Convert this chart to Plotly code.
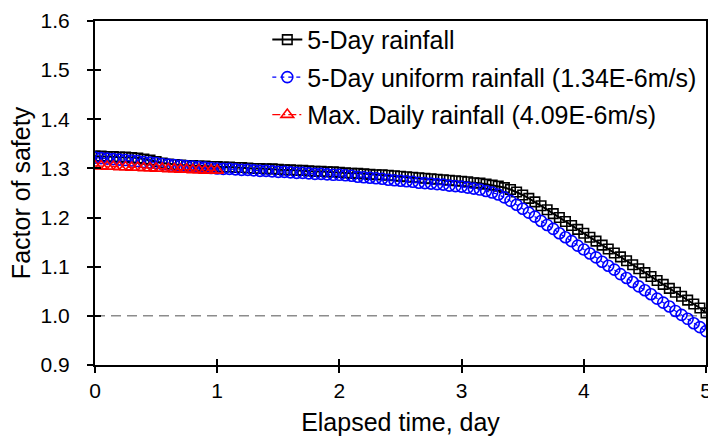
import plotly.graph_objects as go

# Elapsed time (days) at each computed step
time_day = [
    0.00, 0.05, 0.10, 0.15, 0.20, 0.25, 0.30, 0.35, 0.40, 0.45,
    0.50, 0.55, 0.60, 0.65, 0.70, 0.75, 0.80, 0.85, 0.90, 0.95,
    1.00, 1.05, 1.10, 1.15, 1.20, 1.25, 1.30, 1.35, 1.40, 1.45,
    1.50, 1.55, 1.60, 1.65, 1.70, 1.75, 1.80, 1.85, 1.90, 1.95,
    2.00, 2.05, 2.10, 2.15, 2.20, 2.25, 2.30, 2.35, 2.40, 2.45,
    2.50, 2.55, 2.60, 2.65, 2.70, 2.75, 2.80, 2.85, 2.90, 2.95,
    3.00, 3.05, 3.10, 3.15, 3.20, 3.25, 3.30, 3.35, 3.40, 3.45,
    3.50, 3.55, 3.60, 3.65, 3.70, 3.75, 3.80, 3.85, 3.90, 3.95,
    4.00, 4.05, 4.10, 4.15, 4.20, 4.25, 4.30, 4.35, 4.40, 4.45,
    4.50, 4.55, 4.60, 4.65, 4.70, 4.75, 4.80, 4.85, 4.90, 4.95,
    5.00,
]

# Factor of safety, 5-day recorded rainfall
fs_5day = [
    1.325, 1.325, 1.324, 1.324, 1.323, 1.323, 1.322, 1.321, 1.319, 1.317,
    1.314, 1.311, 1.309, 1.308, 1.307, 1.306, 1.306, 1.305, 1.305, 1.304,
    1.304, 1.303, 1.303, 1.302, 1.302, 1.301, 1.300, 1.300, 1.299, 1.299,
    1.298, 1.297, 1.297, 1.296, 1.296, 1.295, 1.294, 1.294, 1.293, 1.293,
    1.292, 1.291, 1.290, 1.290, 1.289, 1.288, 1.287, 1.287, 1.286, 1.285,
    1.284, 1.283, 1.282, 1.281, 1.280, 1.279, 1.278, 1.277, 1.276, 1.275,
    1.274, 1.273, 1.271, 1.270, 1.268, 1.266, 1.264, 1.261, 1.257, 1.252,
    1.246, 1.239, 1.232, 1.224, 1.216, 1.208, 1.200, 1.192, 1.184, 1.176,
    1.168, 1.160, 1.152, 1.144, 1.136, 1.128, 1.120, 1.112, 1.104, 1.096,
    1.088, 1.080, 1.072, 1.064, 1.056, 1.048, 1.040, 1.032, 1.024, 1.016,
    1.006,
]

# Factor of safety, 5-day uniform rainfall (1.34E-6 m/s)
fs_uniform = [
    1.322, 1.321, 1.320, 1.319, 1.318, 1.317, 1.316, 1.315, 1.313, 1.312,
    1.311, 1.309, 1.308, 1.307, 1.306, 1.305, 1.304, 1.303, 1.302, 1.301,
    1.300, 1.299, 1.299, 1.298, 1.297, 1.297, 1.296, 1.295, 1.295, 1.294,
    1.293, 1.293, 1.292, 1.291, 1.291, 1.290, 1.289, 1.289, 1.288, 1.287,
    1.287, 1.286, 1.285, 1.283, 1.282, 1.281, 1.280, 1.279, 1.277, 1.276,
    1.275, 1.274, 1.273, 1.271, 1.270, 1.269, 1.268, 1.267, 1.265, 1.264,
    1.263, 1.261, 1.259, 1.257, 1.254, 1.251, 1.247, 1.241, 1.234, 1.226,
    1.218, 1.210, 1.202, 1.193, 1.185, 1.177, 1.168, 1.160, 1.152, 1.143,
    1.135, 1.127, 1.119, 1.110, 1.102, 1.094, 1.085, 1.077, 1.069, 1.060,
    1.052, 1.044, 1.035, 1.027, 1.019, 1.010, 1.002, 0.994, 0.985, 0.977,
    0.969,
]

# Factor of safety, maximum daily rainfall (4.09E-6 m/s), first day only
time_max_daily = [
    0.00, 0.05, 0.10, 0.15, 0.20, 0.25, 0.30, 0.35, 0.40, 0.45,
    0.50, 0.55, 0.60, 0.65, 0.70, 0.75, 0.80, 0.85, 0.90, 0.95,
    1.00,
]
fs_max_daily = [
    1.305, 1.305, 1.304, 1.304, 1.303, 1.303, 1.302, 1.302, 1.301, 1.301,
    1.300, 1.300, 1.299, 1.299, 1.298, 1.298, 1.297, 1.297, 1.296, 1.296,
    1.296,
]

fs_threshold = 1.0
x_ticks = [0, 1, 2, 3, 4, 5]
y_ticks = [0.9, 1.0, 1.1, 1.2, 1.3, 1.4, 1.5, 1.6]

FONT = "Liberation Sans, Arial, sans-serif"

fig = go.Figure()

fig.add_trace(go.Scatter(
    x=time_day, y=fs_5day, mode="lines+markers",
    name="5-Day rainfall",
    line=dict(color="black", width=2),
    marker=dict(symbol="square-open", size=9.5, color="black",
                line=dict(width=1.6, color="black")),
    legendgroup="a",
))
fig.add_trace(go.Scatter(
    x=time_day, y=fs_uniform, mode="lines+markers",
    name="5-Day uniform rainfall (1.34E-6m/s)",
    line=dict(color="#0000ff", width=1.2, dash="4px,4px"),
    marker=dict(symbol="circle-open", size=11, color="#0000ff",
                line=dict(width=1.6, color="#0000ff")),
    legendgroup="b",
))
fig.add_trace(go.Scatter(
    x=time_max_daily, y=fs_max_daily, mode="lines+markers",
    name="Max. Daily rainfall (4.09E-6m/s)",
    line=dict(color="#ff0000", width=1.2, dash="8px,3px,2px,3px"),
    marker=dict(symbol="triangle-up-open", size=11, color="#ff0000",
                line=dict(width=1.6, color="#ff0000")),
    legendgroup="c",
))
# empty trace that activates the overlay axes carrying the inner tick marks
fig.add_trace(go.Scatter(x=[], y=[], xaxis="x2", yaxis="y2",
                         showlegend=False, hoverinfo="skip"))

fig.add_hline(y=fs_threshold, line=dict(color="#8c8c8c", width=1.5, dash="10px,6px"),
              layer="below")

axis_common = dict(showgrid=False, zeroline=False, tickcolor="black",
                   tickwidth=1.5, ticklen=6, automargin=False)

fig.update_layout(
    width=708, height=439,
    margin=dict(l=95, r=2, t=21, b=74),
    plot_bgcolor="white", paper_bgcolor="white",
    font=dict(family=FONT, color="black"),
    xaxis=dict(range=[0, 5], tickvals=x_ticks, ticks="outside",
               showline=True, linecolor="black", linewidth=2, mirror=True,
               tickfont=dict(size=21), ticklabeloverflow="allow",
               title=dict(text="Elapsed time, day", font=dict(size=25), standoff=12),
               **axis_common),
    xaxis2=dict(range=[0, 5], tickvals=x_ticks, ticks="inside", overlaying="x",
                anchor="y", side="bottom", showticklabels=False, showline=False,
                **axis_common),
    yaxis=dict(range=[0.9, 1.6], tickvals=y_ticks, tickformat=".1f", ticks="outside",
               showline=True, linecolor="black", linewidth=2, mirror=True,
               tickfont=dict(size=21), ticklabelstandoff=13,
               title=dict(text="Factor of safety", font=dict(size=25), standoff=3),
               **axis_common),
    yaxis2=dict(range=[0.9, 1.6], tickvals=y_ticks, ticks="inside", overlaying="y",
                anchor="x", side="left", showticklabels=False, showline=False,
                **axis_common),
    legend=dict(x=0.282, y=1.012, xanchor="left", yanchor="top",
                bgcolor="rgba(0,0,0,0)", font=dict(size=25),
                traceorder="grouped", tracegroupgap=2),
    showlegend=True,
)

fig.write_html("out.html")
